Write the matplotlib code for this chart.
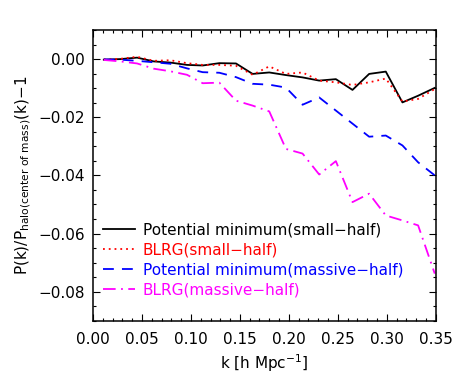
import matplotlib
matplotlib.use("Agg")
import matplotlib.pyplot as plt
from matplotlib.ticker import MultipleLocator

k = [0.011, 0.028, 0.045, 0.062, 0.079, 0.096, 0.112, 0.129, 0.146, 0.163, 0.180,
     0.197, 0.214, 0.231, 0.248, 0.265, 0.282, 0.299, 0.316, 0.332, 0.349]

pot_small = [-0.0002, 0.0000, 0.0005, -0.0008, -0.0012, -0.0020, -0.0022, -0.0014, -0.0015,
             -0.0051, -0.0046, -0.0055, -0.0063, -0.0074, -0.0069, -0.0106, -0.0051, -0.0043,
             -0.0149, -0.0126, -0.0099]
blrg_small = [-0.0001, 0.0001, 0.0008, -0.0006, -0.0004, -0.0014, -0.0020, -0.0020, -0.0023,
              -0.0054, -0.0025, -0.0051, -0.0046, -0.0074, -0.0080, -0.0089, -0.0080, -0.0067,
              -0.0146, -0.0137, -0.0103]
pot_massive = [-0.0001, -0.0002, -0.0006, -0.0011, -0.0016, -0.0032, -0.0045, -0.0047, -0.0062,
               -0.0085, -0.0088, -0.0098, -0.0157, -0.0132, -0.0177, -0.0222, -0.0267, -0.0263,
               -0.0297, -0.0355, -0.0400]
blrg_massive = [-0.0003, -0.0008, -0.0015, -0.0033, -0.0042, -0.0054, -0.0083, -0.0081, -0.0143,
                -0.0160, -0.0180, -0.0309, -0.0325, -0.0397, -0.0351, -0.0492, -0.0463, -0.0538,
                -0.0555, -0.0572, -0.0738]

labels = ["Potential minimum(small\u2212half)", "BLRG(small\u2212half)",
          "Potential minimum(massive\u2212half)", "BLRG(massive\u2212half)"]

plt.rcParams['font.family'] = ['DejaVu Sans']
plt.rcParams['mathtext.fontset'] = 'dejavusans'

fig = plt.figure(figsize=(4.63, 3.80), dpi=100)
ax = fig.add_axes([0.2009, 0.156, 0.7402, 0.765])

ax.plot(k, pot_small, color='black', lw=1.3, ls='-', label=labels[0])
ax.plot(k, blrg_small, color='red', lw=1.3, ls=(0, (1, 2.2)), label=labels[1])
ax.plot(k, pot_massive, color='blue', lw=1.3, ls=(0, (6, 4.5)), label=labels[2])
ax.plot(k, blrg_massive, color='magenta', lw=1.3, ls=(0, (7, 3, 1, 3)), label=labels[3])

ax.set_xlim(0, 0.35)
ax.set_ylim(-0.09, 0.01)
ax.xaxis.set_major_locator(MultipleLocator(0.05))
ax.xaxis.set_minor_locator(MultipleLocator(0.01))
ax.yaxis.set_major_locator(MultipleLocator(0.02))
ax.yaxis.set_minor_locator(MultipleLocator(0.005))
ax.xaxis.set_major_formatter(matplotlib.ticker.FormatStrFormatter('%.2f'))
ax.yaxis.set_major_formatter(matplotlib.ticker.FuncFormatter(
    lambda v, p: ('%.2f' % v).replace('-', '\u2212') if abs(v) > 1e-9 else '0.00'))

ax.tick_params(which='both', direction='in', top=True, right=True, labelsize=11, width=0.8)
ax.tick_params(which='major', length=5, pad=6)
ax.tick_params(which='minor', length=2.5)
ax.tick_params(axis='x', which='major', pad=8)
for s in ax.spines.values():
    s.set_linewidth(1.1)

ax.set_xlabel('k [h Mpc$^{-1}$]', fontsize=11, labelpad=4)
ax.set_ylabel(r'P(k)/P$_{\mathregular{halo(center\ of\ mass)}}$(k)$-$1', fontsize=11, labelpad=4)

leg = ax.legend(loc='upper left', bbox_to_anchor=(0.029, 0.338), frameon=False,
                fontsize=11, handlelength=2.1, handletextpad=0.5, labelspacing=0.32,
                borderpad=0, borderaxespad=0, labelcolor='linecolor')

fig.savefig('out.png', dpi=100)
